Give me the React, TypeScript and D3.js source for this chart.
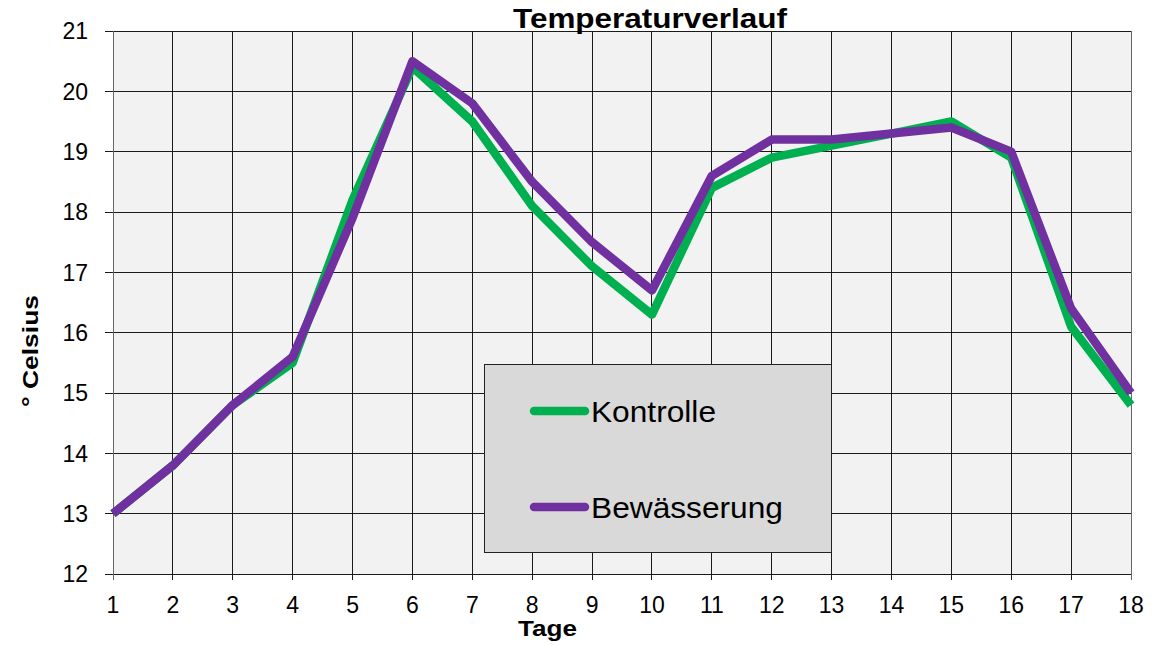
import React, { useEffect, useRef } from 'react';
import * as d3 from 'd3';

const days = [1, 2, 3, 4, 5, 6, 7, 8, 9, 10, 11, 12, 13, 14, 15, 16, 17, 18];
const kontrolle = [13, 13.8, 14.8, 15.5, 18.2, 20.4, 19.5, 18.1, 17.1, 16.3, 18.4, 18.9, 19.1, 19.3, 19.5, 18.9, 16.1, 14.8];
const bewaesserung = [13, 13.8, 14.8, 15.6, 17.9, 20.5, 19.8, 18.5, 17.5, 16.7, 18.6, 19.2, 19.2, 19.3, 19.4, 19.0, 16.4, 15.0];
const yTicks = [12, 13, 14, 15, 16, 17, 18, 19, 20, 21];
const seriesNames = ['Kontrolle', 'Bewässerung'];
const colors = ['#00b050', '#7030a0'];

const App = () => {
  const ref = useRef(null);

  useEffect(() => {
    const width = 1153;
    const height = 646;
    const margin = { top: 31, right: 22, bottom: 72, left: 113 };
    const font = 'Liberation Sans, Arial, sans-serif';

    const svg = d3.select(ref.current);
    svg.selectAll('*').remove();

    const x = d3.scaleLinear().domain([1, 18]).range([margin.left, width - margin.right]);
    const y = d3.scaleLinear().domain([12, 21]).range([height - margin.bottom, margin.top]);

    // plot background
    svg.append('rect')
      .attr('x', x(1)).attr('y', y(21))
      .attr('width', x(18) - x(1)).attr('height', y(12) - y(21))
      .attr('fill', '#f2f2f2');

    // grid
    const grid = svg.append('g').attr('shape-rendering', 'crispEdges');
    grid.selectAll('.h').data(yTicks).enter().append('line')
      .attr('x1', x(1) - 8).attr('x2', x(18))
      .attr('y1', (d) => y(d)).attr('y2', (d) => y(d))
      .attr('stroke', '#1a1a1a').attr('stroke-width', 1);
    grid.selectAll('.v').data(days).enter().append('line')
      .attr('x1', (d) => x(d)).attr('x2', (d) => x(d))
      .attr('y1', y(21)).attr('y2', y(12) + 6)
      .attr('stroke', (d) => (d === 1 || d === 18 ? '#666' : '#1a1a1a'))
      .attr('stroke-width', 1);

    // tick labels
    svg.selectAll('.yl').data(yTicks).enter().append('text')
      .attr('x', 88).attr('y', (d) => y(d))
      .attr('dy', '0.36em')
      .attr('text-anchor', 'end')
      .attr('font-family', font).attr('font-size', 23)
      .text((d) => d);
    svg.selectAll('.xl').data(days).enter().append('text')
      .attr('x', (d) => x(d)).attr('y', 613)
      .attr('text-anchor', 'middle')
      .attr('font-family', font).attr('font-size', 23)
      .text((d) => d);

    // lines
    const line = d3.line<number>()
      .x((d, i) => x(days[i]))
      .y((d) => y(d));
    [kontrolle, bewaesserung].forEach((s, i) => {
      svg.append('path')
        .attr('d', line(s))
        .attr('fill', 'none')
        .attr('stroke', colors[i])
        .attr('stroke-width', 8.5)
        .attr('stroke-linejoin', 'round');
    });

    // titles
    svg.append('text')
      .attr('x', 513).attr('y', 28)
      .attr('font-family', font).attr('font-size', 28).attr('font-weight', 'bold')
      .attr('textLength', 274).attr('lengthAdjust', 'spacingAndGlyphs')
      .text('Temperaturverlauf');
    svg.append('text')
      .attr('x', 518).attr('y', 636)
      .attr('font-family', font).attr('font-size', 22).attr('font-weight', 'bold')
      .attr('textLength', 59).attr('lengthAdjust', 'spacingAndGlyphs')
      .text('Tage');
    svg.append('text')
      .attr('transform', 'translate(38,407) rotate(-90)')
      .attr('font-family', font).attr('font-size', 22).attr('font-weight', 'bold')
      .attr('textLength', 112).attr('lengthAdjust', 'spacingAndGlyphs')
      .text('° Celsius');

    // legend
    const lg = svg.append('g');
    lg.append('rect')
      .attr('x', 484.5).attr('y', 364.5).attr('width', 347).attr('height', 188)
      .attr('fill', '#d9d9d9').attr('stroke', '#222').attr('stroke-width', 1);
    seriesNames.forEach((name, i) => {
      const ly = 411 + i * 96;
      lg.append('line')
        .attr('x1', 534).attr('x2', 585).attr('y1', ly).attr('y2', ly)
        .attr('stroke', colors[i]).attr('stroke-width', 8.5).attr('stroke-linecap', 'round');
      lg.append('text')
        .attr('x', 591).attr('y', ly)
        .attr('dy', '0.36em')
        .attr('font-family', font).attr('font-size', 30)
        .attr('textLength', i === 0 ? 125 : 192).attr('lengthAdjust', 'spacingAndGlyphs')
        .text(name);
    });
  }, []);

  return (
    <svg ref={ref} width={1153} height={646} style={{ position: 'absolute', left: 0, top: 0, background: '#fff' }} />
  );
};

export default App;
